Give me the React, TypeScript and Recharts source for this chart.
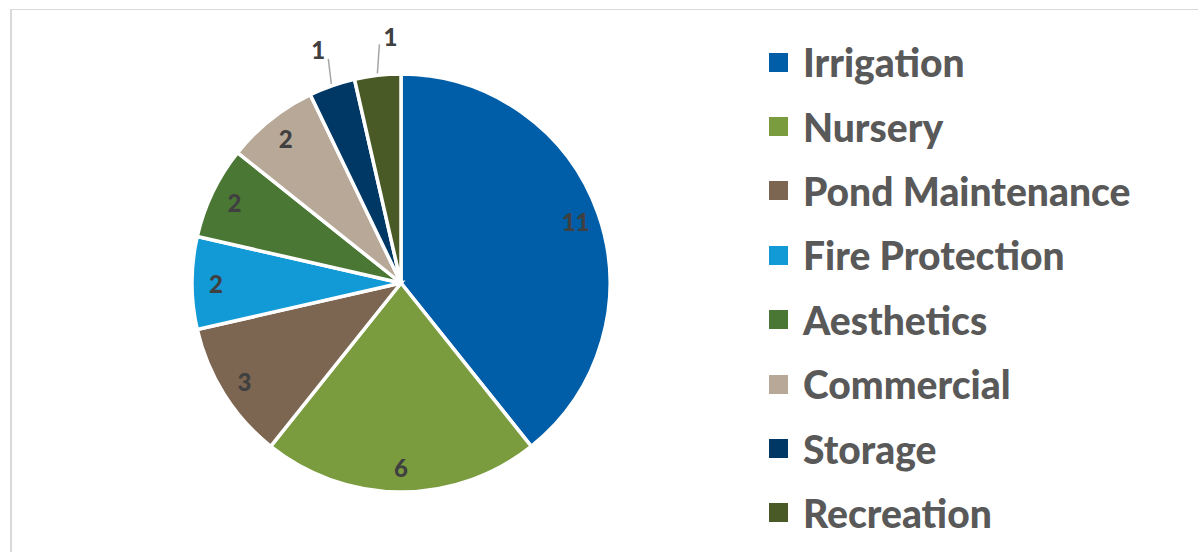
import { PieChart, Pie, Cell, Legend } from "recharts";

const CATEGORIES = [
    "Irrigation",
    "Nursery",
    "Pond Maintenance",
    "Fire Protection",
    "Aesthetics",
    "Commercial",
    "Storage",
    "Recreation",
];
const COUNTS = [11, 6, 3, 2, 2, 2, 1, 1];
const COLORS = ["#005ea8", "#7a9c3f", "#7c6651", "#129ad6", "#4b7735", "#b8a898", "#003865", "#4a5a26"];

const data = CATEGORIES.map((name, i) => ({ name, value: COUNTS[i] }));

// Etiquetas pequeñas que Excel saca fuera con línea guía (desplazamientos a ojo).
const OUTSIDE: Record<string, { ex: number; ey: number; tx: number; ty: number }> = {
    Storage: { ex: -3, ey: -25, tx: -10, ty: -9 },
    Recreation: { ex: 2, ey: -29, tx: 11, ty: -8 },
};

const RAD = Math.PI / 180;
const W = 1198;
const H = 552;
const FONT = "Lato, 'Open Sans', sans-serif";

function renderLabel(props: any) {
    const { cx, cy, midAngle, outerRadius, value, name } = props;
    const out = OUTSIDE[name];
    const textProps = { fontFamily: FONT, fontWeight: 900, fontSize: 24, fill: "#404040" };
    if (out) {
        const sx = cx + (outerRadius + 2) * Math.cos(-midAngle * RAD);
        const sy = cy + (outerRadius + 2) * Math.sin(-midAngle * RAD);
        const ex = sx + out.ex;
        const ey = sy + out.ey;
        return (
            <g>
                <line x1={sx} y1={sy} x2={ex} y2={ey} stroke="#a6a6a6" strokeWidth={1.5} />
                <text x={ex + out.tx} y={ey + out.ty} textAnchor="middle" dominantBaseline="central" {...textProps}>
                    {value}
                </text>
            </g>
        );
    }
    const r = outerRadius * 0.885;
    const x = cx + r * Math.cos(-midAngle * RAD);
    const y = cy + r * Math.sin(-midAngle * RAD);
    return (
        <text x={x} y={y} textAnchor="middle" dominantBaseline="central" {...textProps}>
            {value}
        </text>
    );
}

function LegendList() {
    return (
        <div style={{ fontFamily: FONT, fontWeight: 900, fontSize: 39, color: "#595959" }}>
            {CATEGORIES.map((c, i) => (
                <div key={c} style={{ display: "flex", alignItems: "center", height: 64.4, whiteSpace: "nowrap" }}>
                    <span style={{ width: 19, height: 19, background: COLORS[i], marginRight: 15, flex: "none" }} />
                    <span>{c}</span>
                </div>
            ))}
        </div>
    );
}

export default function App() {
    return (
        <div style={{ position: "absolute", left: 0, top: 0, width: W, height: H, background: "#fff", overflow: "hidden" }}>
            <div
                style={{
                    position: "absolute",
                    left: 10,
                    top: 9,
                    width: W,
                    height: H,
                    borderTop: "1px solid #d9d9d9",
                    borderLeft: "2px solid #d9d9d9",
                }}
            />
            <PieChart
                width={W}
                height={H}
                margin={{ top: 0, right: 0, bottom: 0, left: 0 }}
                style={{ position: "absolute", left: 0, top: 0 }}
            >
                <Pie
                    data={data}
                    dataKey="value"
                    nameKey="name"
                    cx={401}
                    cy={283}
                    outerRadius={209}
                    startAngle={90}
                    endAngle={-270}
                    stroke="#ffffff"
                    strokeWidth={3.5}
                    label={renderLabel}
                    labelLine={false}
                    isAnimationActive={false}
                >
                    {data.map((d, i) => (
                        <Cell key={d.name} fill={COLORS[i]} />
                    ))}
                </Pie>
                <Legend
                    layout="vertical"
                    verticalAlign="top"
                    align="right"
                    content={() => <LegendList />}
                    wrapperStyle={{ left: 769, top: 30, width: 420 }}
                />
            </PieChart>
        </div>
    );
}
